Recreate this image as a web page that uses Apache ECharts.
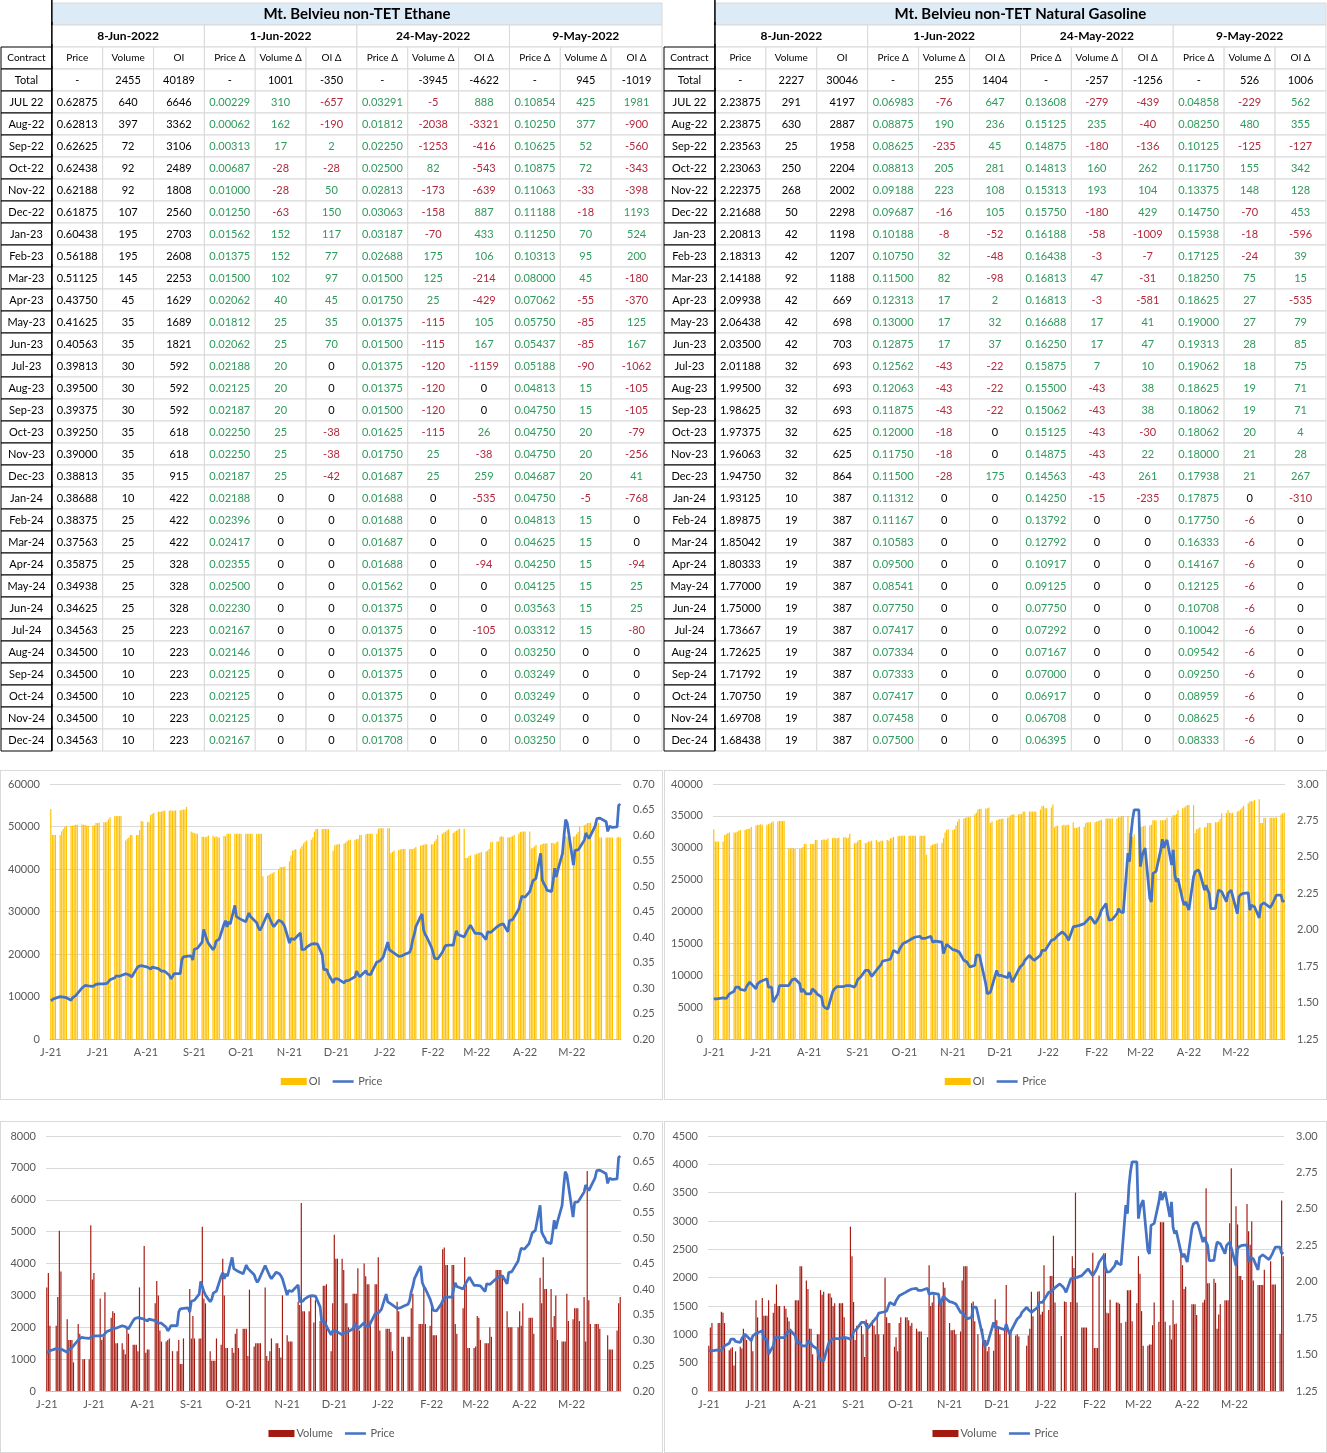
<!DOCTYPE html>
<html>
<head>
<meta charset="UTF-8">
<title>Mt. Belvieu non-TET</title>
<script src="https://cdn.jsdelivr.net/npm/echarts@6.0.0/dist/echarts.min.js"></script>
<style>
    body { margin: 0; background: #fff; }
    .box { position: absolute; box-sizing: border-box; }
    .panel { border: 1px solid #d9d9d9; }
</style>
</head>
<body>
<div id="tblEthane" class="box" style="left:0;top:0;width:663px;height:752px;"></div>
<div id="tblGasoline" class="box" style="left:663px;top:0;width:664px;height:752px;"></div>
<div id="ethOI" class="box panel" style="left:0;top:770px;width:663px;height:330px;"></div>
<div id="gasOI" class="box panel" style="left:664px;top:770px;width:663px;height:330px;"></div>
<div id="ethVol" class="box panel" style="left:0;top:1121px;width:663px;height:332px;"></div>
<div id="gasVol" class="box panel" style="left:664px;top:1121px;width:663px;height:332px;"></div>
<script>
var FONT = 'Lato, "Open Sans", sans-serif';

// ---------- table data ----------
var dateHeads = ['8-Jun-2022', '1-Jun-2022', '24-May-2022', '9-May-2022'];
var colHeads = ['Price', 'Volume', 'OI', 'Price \u0394', 'Volume \u0394', 'OI \u0394',
    'Price \u0394', 'Volume \u0394', 'OI \u0394', 'Price \u0394', 'Volume \u0394', 'OI \u0394'];
var contracts = ['JUL 22', 'Aug-22', 'Sep-22', 'Oct-22', 'Nov-22', 'Dec-22', 'Jan-23', 'Feb-23', 'Mar-23', 'Apr-23',
    'May-23', 'Jun-23', 'Jul-23', 'Aug-23', 'Sep-23', 'Oct-23', 'Nov-23', 'Dec-23', 'Jan-24', 'Feb-24',
    'Mar-24', 'Apr-24', 'May-24', 'Jun-24', 'Jul-24', 'Aug-24', 'Sep-24', 'Oct-24', 'Nov-24', 'Dec-24'];

var ethTotals = ['-', 2455, 40189, '-', 1001, -350, '-', -3945, -4622, '-', 945, -1019];
var ethPrice = [0.62875, 0.62813, 0.62625, 0.62438, 0.62188, 0.61875, 0.60438, 0.56188, 0.51125, 0.43750,
    0.41625, 0.40563, 0.39813, 0.39500, 0.39375, 0.39250, 0.39000, 0.38813, 0.38688, 0.38375,
    0.37563, 0.35875, 0.34938, 0.34625, 0.34563, 0.34500, 0.34500, 0.34500, 0.34500, 0.34563];
var ethVolume = [640, 397, 72, 92, 92, 107, 195, 195, 145, 45, 35, 35, 30, 30, 30, 35, 35, 35, 10, 25,
    25, 25, 25, 25, 25, 10, 10, 10, 10, 10];
var ethOIcol = [6646, 3362, 3106, 2489, 1808, 2560, 2703, 2608, 2253, 1629, 1689, 1821, 592, 592, 592, 618, 618, 915, 422, 422,
    422, 328, 328, 328, 223, 223, 223, 223, 223, 223];
var ethPriceD1 = [0.00229, 0.00062, 0.00313, 0.00687, 0.01000, 0.01250, 0.01562, 0.01375, 0.01500, 0.02062,
    0.01812, 0.02062, 0.02188, 0.02125, 0.02187, 0.02250, 0.02250, 0.02187, 0.02188, 0.02396,
    0.02417, 0.02355, 0.02500, 0.02230, 0.02167, 0.02146, 0.02125, 0.02125, 0.02125, 0.02167];
var ethVolD1 = [310, 162, 17, -28, -28, -63, 152, 152, 102, 40, 25, 25, 20, 20, 20, 25, 25, 25, 0, 0,
    0, 0, 0, 0, 0, 0, 0, 0, 0, 0];
var ethOID1 = [-657, -190, 2, -28, 50, 150, 117, 77, 97, 45, 35, 70, 0, 0, 0, -38, -38, -42, 0, 0,
    0, 0, 0, 0, 0, 0, 0, 0, 0, 0];
var ethPriceD2 = [0.03291, 0.01812, 0.02250, 0.02500, 0.02813, 0.03063, 0.03187, 0.02688, 0.01500, 0.01750,
    0.01375, 0.01500, 0.01375, 0.01375, 0.01500, 0.01625, 0.01750, 0.01687, 0.01688, 0.01688,
    0.01687, 0.01688, 0.01562, 0.01375, 0.01375, 0.01375, 0.01375, 0.01375, 0.01375, 0.01708];
var ethVolD2 = [-5, -2038, -1253, 82, -173, -158, -70, 175, 125, 25, -115, -115, -120, -120, -120, -115, 25, 25, 0, 0,
    0, 0, 0, 0, 0, 0, 0, 0, 0, 0];
var ethOID2 = [888, -3321, -416, -543, -639, 887, 433, 106, -214, -429, 105, 167, -1159, 0, 0, 26, -38, 259, -535, 0,
    0, -94, 0, 0, -105, 0, 0, 0, 0, 0];
var ethPriceD3 = [0.10854, 0.10250, 0.10625, 0.10875, 0.11063, 0.11188, 0.11250, 0.10313, 0.08000, 0.07062,
    0.05750, 0.05437, 0.05188, 0.04813, 0.04750, 0.04750, 0.04750, 0.04687, 0.04750, 0.04813,
    0.04625, 0.04250, 0.04125, 0.03563, 0.03312, 0.03250, 0.03249, 0.03249, 0.03249, 0.03250];
var ethVolD3 = [425, 377, 52, 72, -33, -18, 70, 95, 45, -55, -85, -85, -90, 15, 15, 20, 20, 20, -5, 15,
    15, 15, 15, 15, 15, 0, 0, 0, 0, 0];
var ethOID3 = [1981, -900, -560, -343, -398, 1193, 524, 200, -180, -370, 125, 167, -1062, -105, -105, -79, -256, 41, -768, 0,
    0, -94, 25, 25, -80, 0, 0, 0, 0, 0];

var gasTotals = ['-', 2227, 30046, '-', 255, 1404, '-', -257, -1256, '-', 526, 1006];
var gasPrice = [2.23875, 2.23875, 2.23563, 2.23063, 2.22375, 2.21688, 2.20813, 2.18313, 2.14188, 2.09938,
    2.06438, 2.03500, 2.01188, 1.99500, 1.98625, 1.97375, 1.96063, 1.94750, 1.93125, 1.89875,
    1.85042, 1.80333, 1.77000, 1.75000, 1.73667, 1.72625, 1.71792, 1.70750, 1.69708, 1.68438];
var gasVolume = [291, 630, 25, 250, 268, 50, 42, 42, 92, 42, 42, 42, 32, 32, 32, 32, 32, 32, 10, 19,
    19, 19, 19, 19, 19, 19, 19, 19, 19, 19];
var gasOIcol = [4197, 2887, 1958, 2204, 2002, 2298, 1198, 1207, 1188, 669, 698, 703, 693, 693, 693, 625, 625, 864, 387, 387,
    387, 387, 387, 387, 387, 387, 387, 387, 387, 387];
var gasPriceD1 = [0.06983, 0.08875, 0.08625, 0.08813, 0.09188, 0.09687, 0.10188, 0.10750, 0.11500, 0.12313,
    0.13000, 0.12875, 0.12562, 0.12063, 0.11875, 0.12000, 0.11750, 0.11500, 0.11312, 0.11167,
    0.10583, 0.09500, 0.08541, 0.07750, 0.07417, 0.07334, 0.07333, 0.07417, 0.07458, 0.07500];
var gasVolD1 = [-76, 190, -235, 205, 223, -16, -8, 32, 82, 17, 17, 17, -43, -43, -43, -18, -18, -28, 0, 0,
    0, 0, 0, 0, 0, 0, 0, 0, 0, 0];
var gasOID1 = [647, 236, 45, 281, 108, 105, -52, -48, -98, 2, 32, 37, -22, -22, -22, 0, 0, 175, 0, 0,
    0, 0, 0, 0, 0, 0, 0, 0, 0, 0];
var gasPriceD2 = [0.13608, 0.15125, 0.14875, 0.14813, 0.15313, 0.15750, 0.16188, 0.16438, 0.16813, 0.16813,
    0.16688, 0.16250, 0.15875, 0.15500, 0.15062, 0.15125, 0.14875, 0.14563, 0.14250, 0.13792,
    0.12792, 0.10917, 0.09125, 0.07750, 0.07292, 0.07167, 0.07000, 0.06917, 0.06708, 0.06395];
var gasVolD2 = [-279, 235, -180, 160, 193, -180, -58, -3, 47, -3, 17, 17, 7, -43, -43, -43, -43, -43, -15, 0,
    0, 0, 0, 0, 0, 0, 0, 0, 0, 0];
var gasOID2 = [-439, -40, -136, 262, 104, 429, -1009, -7, -31, -581, 41, 47, 10, 38, 38, -30, 22, 261, -235, 0,
    0, 0, 0, 0, 0, 0, 0, 0, 0, 0];
var gasPriceD3 = [0.04858, 0.08250, 0.10125, 0.11750, 0.13375, 0.14750, 0.15938, 0.17125, 0.18250, 0.18625,
    0.19000, 0.19313, 0.19062, 0.18625, 0.18062, 0.18062, 0.18000, 0.17938, 0.17875, 0.17750,
    0.16333, 0.14167, 0.12125, 0.10708, 0.10042, 0.09542, 0.09250, 0.08959, 0.08625, 0.08333];
var gasVolD3 = [-229, 480, -125, 155, 148, -70, -18, -24, 75, 27, 27, 28, 18, 19, 19, 20, 21, 21, 0, -6,
    -6, -6, -6, -6, -6, -6, -6, -6, -6, -6];
var gasOID3 = [562, 355, -127, 342, 128, 453, -596, 39, 15, -535, 79, 85, 75, 71, 71, 4, 28, 267, -310, 0,
    0, 0, 0, 0, 0, 0, 0, 0, 0, 0];

// ---------- daily history, one value per weekday 8-Jun-2021 .. 8-Jun-2022 ----------
var firstDay = '2021-06-08';
var dayCount = 366;

var ethDailyPrice = [0.275, 0.277, 0.279, 0.282,
    0.283, 0.283, 0.282, 0.281, 0.281, 0.276, 0.281, 0.283, 0.285, 0.287, 0.300, 0.303, 0.305, 0.305, 0.304,
    0.303, 0.302, 0.307, 0.308, 0.308, 0.308, 0.309, 0.309, 0.312, 0.316, 0.320, 0.324, 0.325, 0.323, 0.324,
    0.328, 0.327, 0.326, 0.325, 0.322, 0.338, 0.342, 0.345, 0.344, 0.343, 0.341, 0.339, 0.337, 0.341, 0.338,
    0.338, 0.335, 0.333, 0.333, 0.333, 0.325, 0.318, 0.322, 0.328, 0.329, 0.328, 0.355, 0.361, 0.363, 0.362,
    0.363, 0.355, 0.376, 0.378, 0.378, 0.390, 0.415, 0.405, 0.395, 0.388, 0.375, 0.380, 0.392, 0.395, 0.396,
    0.425, 0.432, 0.420, 0.430, 0.425, 0.462, 0.440, 0.437, 0.436, 0.437, 0.430, 0.427, 0.447, 0.440, 0.438,
    0.428, 0.419, 0.413, 0.418, 0.420, 0.446, 0.445, 0.432, 0.425, 0.420, 0.433, 0.432, 0.430, 0.426, 0.420,
    0.388, 0.397, 0.394, 0.395, 0.393, 0.408, 0.375, 0.374, 0.376, 0.380, 0.386, 0.387, 0.387, 0.387, 0.386,
    0.365, 0.336, 0.335, 0.336, 0.327, 0.310, 0.318, 0.317, 0.318, 0.320, 0.310, 0.314, 0.316, 0.315, 0.315,
    0.322, 0.333, 0.327, 0.322, 0.323, 0.334, 0.327, 0.326, 0.326, 0.333, 0.351, 0.352, 0.353, 0.354, 0.360,
    0.390, 0.375, 0.373, 0.371, 0.371, 0.362, 0.359, 0.363, 0.364, 0.366, 0.370, 0.378, 0.395, 0.405, 0.420,
    0.440, 0.445, 0.413, 0.405, 0.400, 0.380, 0.370, 0.358, 0.357, 0.357, 0.370, 0.377, 0.383, 0.384, 0.384,
    0.384, 0.400, 0.412, 0.405, 0.403, 0.400, 0.407, 0.413, 0.418, 0.423, 0.407, 0.407, 0.407, 0.406, 0.406,
    0.395, 0.410, 0.412, 0.409, 0.408, 0.420, 0.423, 0.424, 0.425, 0.426, 0.410, 0.432, 0.433, 0.434, 0.435,
    0.455, 0.469, 0.480, 0.479, 0.478, 0.489, 0.492, 0.510, 0.513, 0.515, 0.564, 0.512, 0.505, 0.500, 0.492,
    0.489, 0.510, 0.535, 0.518, 0.531, 0.564, 0.600, 0.630, 0.624, 0.604, 0.541, 0.570, 0.571, 0.571, 0.575,
    0.590, 0.604, 0.598, 0.593, 0.590, 0.618, 0.632, 0.633, 0.633, 0.632, 0.626, 0.607, 0.617, 0.615, 0.615,
    0.616, 0.658, 0.661];

var ethDailyOI = [54100, 48000, 48000, 48000,
    48000, 48900, 49400, 49900, 50200, 50200, 50200, 50300, 50400, 50400, 50500, 50400, 50400, 50200, 50200,
    50200, 50300, 50800, 50800, 50900, 51000, 51000, 51100, 51700, 52200, 52400, 52500, 52500, 52500, 52500,
    46700, 47100, 47400, 48000, 48000, 48000, 48000, 49200, 51300, 51200, 51100, 51000, 52700, 53000, 53200,
    53500, 53500, 53500, 53700, 53700, 53700, 53800, 53700, 53700, 53800, 53800, 53900, 54000, 54000, 54600,
    48800, 48600, 48500, 48300, 48300, 47600, 47600, 47500, 47600, 47900, 47800, 47500, 47700, 47500, 47400,
    47800, 47700, 48300, 48300, 48300, 48300, 48300, 48300, 48300, 48300, 48300, 48300, 48300, 48300, 48300,
    48300, 48300, 48300, 48300, 38300, 38400, 38600, 38800, 39000, 39300, 40000, 40400, 40500, 40500, 40600,
    41800, 43200, 44300, 44500, 44700, 44800, 45400, 46000, 46400, 46700, 46900, 47400, 48800, 49400, 49400,
    49400, 49400, 49400, 49400, 49400, 44300, 45600, 45700, 45800, 45900, 46000, 46200, 46600, 46800, 46900,
    46900, 47000, 47100, 48000, 48000, 48200, 48300, 48300, 48300, 48300, 48300, 49500, 49600, 49600, 49600,
    49600, 49600, 43700, 44000, 44300, 44500, 44600, 44700, 44700, 44700, 44700, 44700, 44700, 44900, 45200,
    45500, 45600, 45700, 45800, 45800, 45800, 45800, 46500, 47000, 48000, 48300, 48600, 48800, 49100, 49300,
    48500, 48800, 49000, 49300, 49500, 49500, 42600, 42600, 43000, 43200, 43400, 43600, 43700, 43800, 44000,
    44100, 44300, 44700, 46300, 46400, 46500, 46500, 47600, 47700, 47600, 47500, 47400, 47600, 47700, 48000,
    48300, 48700, 48800, 48800, 48800, 48800, 44800, 45000, 45300, 45700, 45700, 45900, 46000, 46000, 46000,
    46100, 46200, 45900, 46300, 46500, 46000, 47500, 47800, 47600, 47600, 47600, 47700, 48200, 48700, 50000,
    50300, 50500, 50800, 50800, 50900, 50900, 50900, 50900, 47400, 47400, 47400, 47400, 47400, 47400, 47400,
    47400, 47600, 47400];

var ethDailyVolume = [3250, 3700, 2050, 0,
    2050, 2950, 5030, 3750, 0, 2250, 1600, 1600, 1600, 900, 2100, 1800, 0, 1000, 1000,
    1000, 5200, 3500, 3700, 0, 2900, 1600, 1700, 3100, 0, 2300, 2500, 2450, 1500, 1500,
    1500, 1300, 1150, 2000, 1800, 1450, 1450, 1450, 1250, 3250, 4550, 1200, 1300, 1300, 0,
    2750, 3450, 3000, 1900, 1550, 1550, 1600, 1650, 0, 1250, 1250, 1600, 850, 850, 1650,
    0, 3200, 1650, 2350, 1650, 1650, 1650, 5150, 2900, 2750, 1250, 950, 950, 950, 1650,
    1450, 4150, 3000, 1350, 1350, 1350, 1200, 1800, 1950, 1350, 1950, 1950, 1950, 1100, 3180,
    1400, 1500, 1500, 1500, 1500, 3250, 1100, 950, 1250, 1650, 1500, 1500, 1350, 1050, 3000,
    1750, 1550, 1550, 1550, 0, 2800, 2700, 5900, 2500, 2500, 2500, 2950, 0, 2150, 2850,
    2200, 2200, 3300, 3300, 3350, 1250, 2750, 4900, 4150, 4150, 4150, 3800, 2750, 2750, 2000,
    3050, 3050, 3050, 3850, 1900, 4000, 3600, 3350, 3350, 2200, 3350, 3350, 4200, 1900, 0,
    1950, 1950, 1950, 1850, 1250, 2800, 2500, 0, 1700, 1700, 1700, 1700, 2600, 3050, 0,
    2100, 2100, 2100, 3250, 2100, 2050, 2700, 1750, 1750, 1750, 2750, 4450, 4500, 3950, 3950,
    3950, 3950, 2100, 1800, 0, 2600, 4200, 3350, 1350, 1350, 1350, 1400, 2350, 2300, 1600,
    1500, 1500, 1500, 2000, 1700, 3800, 3800, 3800, 3800, 3600, 2500, 2000, 2000, 2000, 0,
    2000, 2500, 2050, 2750, 0, 2300, 2300, 2300, 1800, 0, 3550, 2750, 4200, 3200, 3200,
    3200, 2000, 2350, 3000, 1600, 1550, 1550, 1550, 3050, 2200, 2250, 2600, 2600, 2600, 2200,
    2950, 1550, 6900, 2850, 2100, 2100, 2100, 2100, 1950, 0, 0, 1750, 1300, 1300, 1300,
    1900, 2750, 2950];

var gasDailyPrice = [1.526, 1.526, 1.526, 1.528,
    1.532, 1.523, 1.528, 1.532, 1.560, 1.578, 1.606, 1.606, 1.606, 1.590, 1.583, 1.610, 1.617, 1.640, 1.640,
    1.595, 1.629, 1.640, 1.645, 1.648, 1.663, 1.606, 1.606, 1.606, 1.503, 1.560, 1.617, 1.617, 1.617, 1.617,
    1.617, 1.629, 1.656, 1.663, 1.663, 1.629, 1.571, 1.594, 1.583, 1.560, 1.560, 1.594, 1.583, 1.575, 1.560,
    1.537, 1.480, 1.466, 1.458, 1.456, 1.571, 1.592, 1.601, 1.610, 1.617, 1.610, 1.617, 1.617, 1.617, 1.617,
    1.606, 1.624, 1.656, 1.660, 1.675, 1.721, 1.721, 1.721, 1.700, 1.680, 1.721, 1.735, 1.745, 1.760, 1.785,
    1.792, 1.795, 1.798, 1.802, 1.858, 1.840, 1.870, 1.880, 1.904, 1.910, 1.927, 1.935, 1.940, 1.940, 1.950,
    1.955, 1.941, 1.940, 1.940, 1.945, 1.955, 1.915, 1.922, 1.922, 1.920, 1.915, 1.836, 1.870, 1.900, 1.905,
    1.863, 1.860, 1.858, 1.855, 1.847, 1.790, 1.780, 1.778, 1.760, 1.745, 1.755, 1.825, 1.825, 1.825, 1.825,
    1.629, 1.560, 1.571, 1.571, 1.571, 1.721, 1.686, 1.686, 1.686, 1.680, 1.670, 1.709, 1.675, 1.640, 1.629,
    1.725, 1.744, 1.755, 1.765, 1.790, 1.825, 1.810, 1.800, 1.790, 1.780, 1.825, 1.858, 1.858, 1.858, 1.870,
    1.927, 1.922, 1.935, 1.945, 1.960, 1.985, 1.978, 1.965, 1.950, 1.927, 2.019, 2.019, 2.025, 2.030, 2.030,
    2.042, 2.055, 2.065, 2.075, 2.088, 2.042, 2.060, 2.077, 2.100, 2.134, 2.180, 2.100, 2.065, 2.068, 2.070,
    2.111, 2.145, 2.125, 2.120, 2.116, 2.525, 2.467, 2.660, 2.760, 2.823, 2.823, 2.433, 2.502, 2.537, 2.560,
    2.214, 2.190, 2.387, 2.396, 2.400, 2.548, 2.621, 2.560, 2.600, 2.616, 2.444, 2.548, 2.375, 2.330, 2.352,
    2.203, 2.169, 2.192, 2.190, 2.135, 2.364, 2.398, 2.410, 2.410, 2.390, 2.272, 2.306, 2.272, 2.250, 2.144,
    2.146, 2.220, 2.272, 2.265, 2.261, 2.192, 2.249, 2.260, 2.272, 2.272, 2.111, 2.226, 2.240, 2.249, 2.250,
    2.253, 2.134, 2.168, 2.160, 2.157, 2.081, 2.168, 2.180, 2.185, 2.190, 2.152, 2.170, 2.190, 2.214, 2.237,
    2.237, 2.192, 2.203];

var gasDailyOI = [32900, 31000, 31000, 31000,
    31000, 32000, 32100, 32300, 32400, 32400, 32400, 32500, 32700, 32800, 32800, 32900, 33000, 33000, 33300,
    33500, 33600, 33600, 33700, 33600, 33600, 33700, 33800, 34000, 34100, 34100, 34200, 34200, 34200, 34200,
    29900, 29900, 30000, 29900, 29800, 29800, 29900, 30100, 30600, 30600, 30600, 30600, 30600, 31200, 31200,
    31200, 31300, 31300, 31200, 31500, 31500, 31600, 31500, 31500, 31600, 31600, 31700, 31500, 31600, 32200,
    30700, 30800, 31000, 31200, 31200, 30700, 30800, 31000, 31000, 31100, 31200, 31000, 30900, 31100, 31100,
    31200, 31100, 31500, 31500, 31700, 31800, 31900, 31900, 31900, 31900, 31900, 31900, 31900, 31900, 31900,
    31900, 31900, 31900, 31900, 28900, 30300, 30500, 30600, 30600, 30700, 30800, 31500, 32400, 32800, 32900,
    32800, 32900, 33500, 34100, 34500, 34600, 34700, 34800, 34800, 34900, 35200, 35500, 36000, 36100, 36100,
    36100, 36200, 36300, 33900, 34100, 34300, 34400, 34500, 34500, 34600, 34700, 34800, 35100, 35200, 35200,
    35200, 35300, 35300, 35700, 35700, 35700, 35700, 35700, 35700, 35700, 36000, 36500, 36600, 36200, 36200,
    36300, 36800, 33200, 33400, 33500, 33500, 33600, 33500, 33600, 33600, 34000, 33100, 33100, 33200, 33300,
    33300, 33900, 34000, 34000, 34000, 34000, 34100, 34200, 34300, 34400, 34600, 34600, 34600, 34600, 34600,
    34600, 34800, 34800, 35000, 35000, 35000, 32300, 32300, 31700, 32100, 33300, 33300, 33300, 33400, 33500,
    33500, 33600, 34300, 34300, 34300, 34300, 34300, 34300, 34400, 34700, 34800, 35100, 35100, 35300, 35900,
    36200, 36300, 36500, 36700, 36700, 36700, 32300, 32900, 33000, 33200, 33200, 33300, 33900, 33900, 33900,
    34000, 34000, 34100, 34500, 35400, 35400, 35900, 35500, 35400, 35500, 35700, 35800, 36000, 36300, 36600,
    37000, 37300, 37300, 37300, 37500, 37600, 33900, 33900, 34700, 34700, 34700, 34700, 34700, 34700, 34800,
    35200, 35400, 35500];

var gasDailyVolume = [800, 1120, 1200, 0,
    1200, 1200, 1400, 1380, 1200, 720, 750, 770, 450, 700, 780, 750, 1100, 1000, 900,
    950, 700, 0, 1600, 1300, 1640, 1330, 1330, 1330, 1600, 1380, 1540, 1880, 1500, 1500,
    1500, 1450, 1300, 1230, 1100, 1600, 1600, 1600, 2200, 2200, 1950, 1800, 1100, 1100, 650,
    1000, 1000, 1780, 1700, 1750, 1720, 1720, 1650, 1500, 1550, 1550, 1550, 1550, 1300, 950,
    2900, 2380, 1570, 900, 1150, 1150, 1000, 600, 1260, 1200, 1250, 1150, 1000, 1300, 1000,
    1000, 2000, 1300, 1200, 1200, 780, 950, 700, 1200, 1300, 1300, 1300, 1250, 1150, 1200,
    1100, 1050, 1050, 1050, 0, 950, 2220, 1500, 1560, 1700, 1650, 1560, 1550, 1920, 1820,
    1200, 1070, 1070, 1080, 1000, 1050, 1950, 2200, 2200, 2200, 1550, 1580, 1230, 0, 1000,
    1100, 900, 900, 700, 780, 710, 1620, 1250, 1140, 1000, 1120, 1870, 0, 1000, 1050,
    980, 1000, 960, 0, 0, 800, 980, 1100, 1750, 1320, 1750, 1760, 1350, 1400, 2220,
    1430, 2030, 2030, 2740, 1560, 0, 970, 0, 1580, 1570, 1570, 2380, 2170, 3500, 1560,
    1120, 1120, 1120, 1120, 0, 2440, 760, 760, 760, 2040, 2430, 2430, 1380, 1370, 1610,
    0, 1560, 1560, 1540, 1200, 1220, 1780, 1780, 1780, 1230, 1550, 2380, 2070, 1410, 800,
    800, 820, 820, 1160, 1560, 1220, 2980, 2980, 2980, 1220, 1160, 910, 1600, 1180, 1190,
    2500, 2220, 1800, 1840, 0, 1530, 1530, 1530, 1340, 0, 1560, 1610, 3580, 1900, 1900,
    1980, 1910, 1100, 1350, 1530, 1600, 1600, 1600, 2960, 3930, 3260, 2940, 2030, 2030, 1960,
    3300, 2820, 2580, 2990, 1950, 1870, 1870, 1870, 1870, 2140, 0, 2290, 1880, 1880, 1880,
    1010, 3360, 2380];

// ---------- helpers ----------
var GREEN = '#2f9a5c', RED = '#b3283c';
var LINE_ICON = 'path://M0,0L0.01,0L0.01,0.01Z M0,2.6L24,2.6L24,5.4L0,5.4Z M0,8L0.01,8L0.01,7.99Z';
function deltaColor(v) { return v > 0 ? GREEN : (v < 0 ? RED : '#000'); }

var dayKeys = [];
(function () {
    var t0 = Date.parse(firstDay + 'T00:00:00Z');
    for (var i = 0; i < dayCount; i++) dayKeys.push(new Date(t0 + i * 86400000).toISOString().slice(0, 10));
})();

// spread weekday values over the calendar, weekends empty
function onCalendar(values) {
    var k = 0;
    return dayKeys.map(function (d) {
        var w = new Date(d + 'T00:00:00Z').getUTCDay();
        return (w === 0 || w === 6) ? null : values[k++];
    });
}
function labelDay(idx, val) { return val.slice(8) === '08' && idx < dayCount - 1; }
function monthLabel(val) { return 'JFMAMJJASOND'.charAt(+val.slice(5, 7) - 1) + '-' + val.slice(2, 4); }

function drawTable(id, title, t) {
    var cells = [];
    function add(c, r, text, o) {
        var cell = { c: c, r: r, text: text, span: 1 };
        for (var k in o) cell[k] = o[k];
        cells.push(cell);
    }
    add(1, 0, title, { span: 12, fill: '#DDEBF7', bold: true, size: 15 });
    dateHeads.forEach(function (d, i) { add(1 + i * 3, 1, d, { span: 3, bold: true, size: 12 }); });
    colHeads.forEach(function (h, i) { add(1 + i, 2, h, { size: 10 }); });
    t.totals.forEach(function (v, i) { add(1 + i, 3, String(v), {}); });
    contracts.forEach(function (name, k) {
        var r = 4 + k;
        add(1, r, t.price[k].toFixed(5), {});
        add(2, r, String(t.volume[k]), {});
        add(3, r, String(t.oi[k]), {});
        t.deltas.forEach(function (arr, j) {
            var v = arr[k];
            add(4 + j, r, j % 3 === 0 ? v.toFixed(5) : String(v), { color: deltaColor(v) });
        });
    });
    // contract column last, so its dark borders sit on top
    add(0, 0, '', { stroke: 'none', rightLine: true });
    add(0, 1, '', { stroke: 'none', rightLine: true });
    add(0, 2, 'Contract', { stroke: '#000', size: 10, rightLine: true });
    add(0, 3, 'Total', { stroke: '#000', rightLine: true });
    contracts.forEach(function (name, k) { add(0, 4 + k, name, { stroke: '#000', rightLine: true }); });

    var cols = [], rows = [];
    for (var i = 0; i < 13; i++) cols.push(String(i));
    for (var j = 0; j < 34; j++) rows.push(String(j));

    var chart = echarts.init(document.getElementById(id));
    chart.setOption({
        animation: false,
        grid: { left: 1, right: 1, top: 3, bottom: 1 },
        xAxis: { type: 'category', data: cols, show: false },
        yAxis: { type: 'category', data: rows, inverse: true, show: false },
        series: [{
            type: 'custom',
            data: cells.map(function (c) { return [c.c, c.r]; }),
            renderItem: function (params, api) {
                var cell = cells[params.dataIndex];
                var sz = api.size([1, 1]);
                var p = api.coord([cell.c, cell.r]);
                var x = p[0] - sz[0] / 2, y = p[1] - sz[1] / 2, w = sz[0] * cell.span, h = sz[1];
                var kids = [];
                if (cell.stroke !== 'none') {
                    kids.push({ type: 'rect', shape: { x: x, y: y, width: w, height: h },
                        style: { fill: cell.fill || '#fff', stroke: cell.stroke || '#d9d9d9', lineWidth: 1 } });
                }
                if (cell.rightLine) {
                    kids.push({ type: 'line', shape: { x1: x + w, y1: y - 3, x2: x + w, y2: y + h },
                        style: { stroke: '#000', lineWidth: 1.5 } });
                }
                kids.push({ type: 'text', style: {
                    text: cell.text, x: x + w / 2, y: y + h / 2, align: 'center', verticalAlign: 'middle',
                    fill: cell.color || '#000', fontSize: cell.size || 11,
                    fontWeight: cell.bold ? 'bold' : 'normal', fontFamily: FONT } });
                return { type: 'group', children: kids };
            }
        }]
    });
}

function drawChart(id, o) {
    var chart = echarts.init(document.getElementById(id));
    chart.setOption({
        animation: false,
        textStyle: { fontFamily: FONT },
        grid: { left: o.left, right: o.right, top: o.top, bottom: o.bottom },
        legend: {
            top: o.legendTop, left: 'center', itemWidth: 26, itemHeight: 7, itemGap: 12,
            textStyle: { color: '#595959', fontSize: 11, padding: [0, 0, 0, -3] },
            data: [{ name: o.barName, icon: 'rect' }, { name: 'Price', icon: LINE_ICON }]
        },
        xAxis: {
            type: 'category', data: dayKeys,
            axisLine: { lineStyle: { color: '#bfbfbf' } },
            axisTick: { interval: labelDay, alignWithLabel: true, length: 4, lineStyle: { color: '#bfbfbf' } },
            axisLabel: { interval: labelDay, formatter: monthLabel, color: '#595959', fontSize: 11, margin: 8 }
        },
        yAxis: [{
            type: 'value', min: 0, max: o.leftMax, interval: o.leftStep,
            axisLabel: { color: '#595959', fontSize: 11, margin: 10, formatter: function (v) { return String(v); } },
            splitLine: { lineStyle: { color: '#d9d9d9' } }
        }, {
            type: 'value', min: o.rMin, max: o.rMax, interval: o.rStep,
            axisLabel: { color: '#595959', fontSize: 11, margin: 12, formatter: function (v) { return v.toFixed(2); } },
            splitLine: { show: false }
        }],
        series: [{
            name: o.barName, type: 'bar', data: onCalendar(o.bars), barWidth: '75%',
            itemStyle: { color: o.barColor }
        }, {
            name: 'Price', type: 'line', yAxisIndex: 1, data: onCalendar(o.price),
            connectNulls: true, showSymbol: false, symbol: 'none',
            lineStyle: { color: '#4472C4', width: 2.75 }, itemStyle: { color: '#4472C4' }
        }]
    });
}

drawTable('tblEthane', 'Mt. Belvieu non-TET Ethane', {
    totals: ethTotals, price: ethPrice, volume: ethVolume, oi: ethOIcol,
    deltas: [ethPriceD1, ethVolD1, ethOID1, ethPriceD2, ethVolD2, ethOID2, ethPriceD3, ethVolD3, ethOID3]
});
drawTable('tblGasoline', 'Mt. Belvieu non-TET Natural Gasoline', {
    totals: gasTotals, price: gasPrice, volume: gasVolume, oi: gasOIcol,
    deltas: [gasPriceD1, gasVolD1, gasOID1, gasPriceD2, gasVolD2, gasOID2, gasPriceD3, gasVolD3, gasOID3]
});

drawChart('ethOI', { left: 49, right: 41, top: 13, bottom: 60, legendTop: 300,
    barName: 'OI', barColor: '#FFC000', bars: ethDailyOI, price: ethDailyPrice,
    leftMax: 60000, leftStep: 10000, rMin: 0.2, rMax: 0.7, rStep: 0.05 });
drawChart('gasOI', { left: 48, right: 41, top: 13, bottom: 60, legendTop: 300,
    barName: 'OI', barColor: '#FFC000', bars: gasDailyOI, price: gasDailyPrice,
    leftMax: 40000, leftStep: 5000, rMin: 1.25, rMax: 3.0, rStep: 0.25 });
drawChart('ethVol', { left: 45, right: 41, top: 14, bottom: 61, legendTop: 301,
    barName: 'Volume', barColor: '#A31A10', bars: ethDailyVolume, price: ethDailyPrice,
    leftMax: 8000, leftStep: 1000, rMin: 0.2, rMax: 0.7, rStep: 0.05 });
drawChart('gasVol', { left: 43, right: 42, top: 14, bottom: 61, legendTop: 301,
    barName: 'Volume', barColor: '#A31A10', bars: gasDailyVolume, price: gasDailyPrice,
    leftMax: 4500, leftStep: 500, rMin: 1.25, rMax: 3.0, rStep: 0.25 });
</script>
</body>
</html>
